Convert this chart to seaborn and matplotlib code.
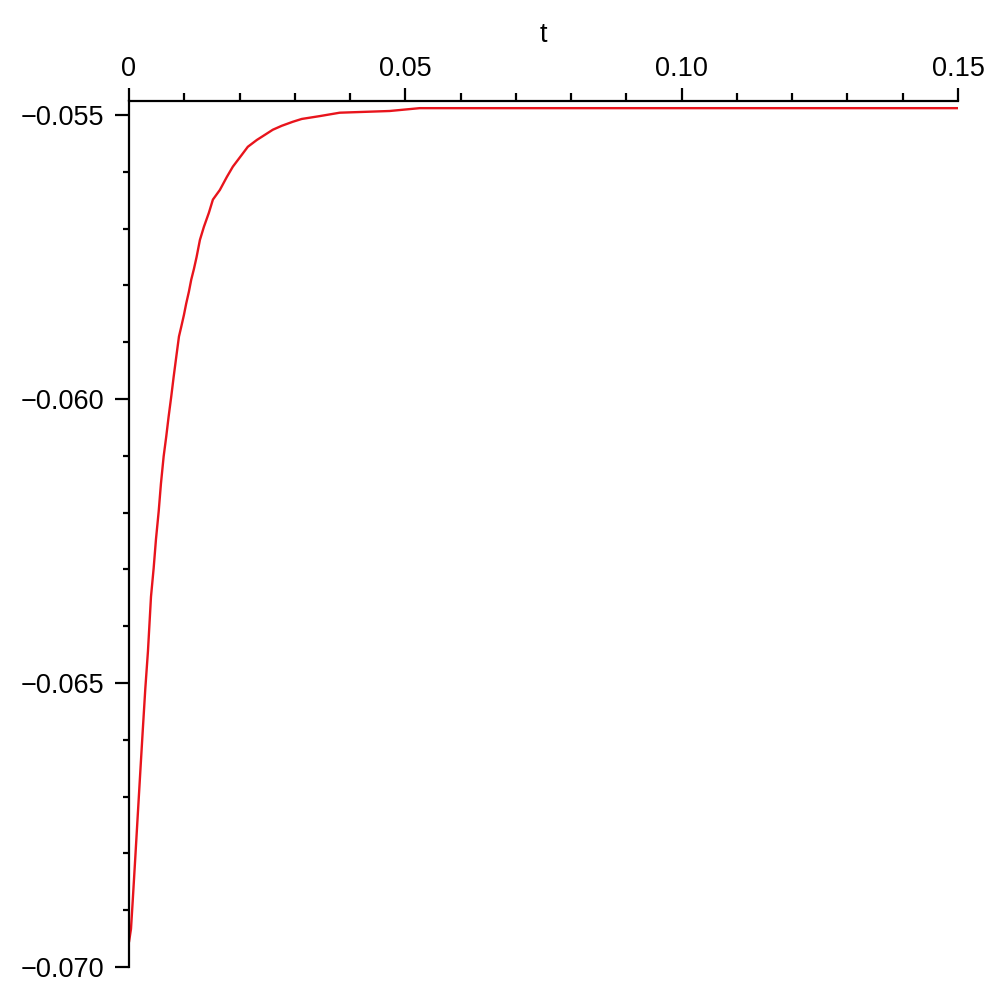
import numpy as np
import pandas as pd
import matplotlib
matplotlib.use("Agg")
import matplotlib.pyplot as plt
import seaborn as sns
from matplotlib.ticker import FixedLocator, MultipleLocator

# values
t_values = [0.0, 0.00036, 0.00067, 0.00114, 0.00157, 0.00204, 0.00248, 0.00295,
            0.00343, 0.00398, 0.00446, 0.00488, 0.00537, 0.00578, 0.00627, 0.00674,
            0.00717, 0.00764, 0.00808, 0.00855, 0.00904, 0.00945, 0.00994, 0.01035,
            0.01084, 0.01126, 0.01175, 0.01223, 0.01283, 0.01355, 0.01446, 0.01518,
            0.01644, 0.01771, 0.01879, 0.02042, 0.02150, 0.02313, 0.02458, 0.02602,
            0.02765, 0.02963, 0.03126, 0.03451, 0.03813, 0.04716, 0.05258, 0.15]
y_values = [-0.06956, -0.06933, -0.06884, -0.06807, -0.06735, -0.06657, -0.06585, -0.06510,
            -0.06444, -0.06348, -0.06298, -0.06247, -0.06198, -0.06149, -0.06101, -0.06066,
            -0.06031, -0.05996, -0.05961, -0.05926, -0.05890, -0.05873, -0.05852, -0.05832,
            -0.05811, -0.05790, -0.05771, -0.05750, -0.05720, -0.05697, -0.05672, -0.05649,
            -0.05632, -0.05609, -0.05591, -0.05570, -0.05556, -0.05544, -0.05535, -0.05526,
            -0.05519, -0.05512, -0.05507, -0.05502, -0.05496, -0.05493, -0.05488, -0.05488]

x_ticks = [0.0, 0.05, 0.10, 0.15]
x_tick_labels = ["0", "0.05", "0.10", "0.15"]
y_ticks = [-0.055, -0.060, -0.065, -0.070]
y_tick_labels = ["\u22120.055", "\u22120.060", "\u22120.065", "\u22120.070"]

df = pd.DataFrame({"t": t_values, "y": y_values})

sns.set_style("ticks")
plt.rcParams["font.family"] = ["Liberation Sans", "DejaVu Sans"]

fig = plt.figure(figsize=(10, 10), dpi=100)
ax = fig.add_axes([0.129, 0.033, 0.829, 0.866])

sns.lineplot(data=df, x="t", y="y", color="#e8141c", linewidth=1.7,
             estimator=None, sort=False, ax=ax)

ax.set_xlim(0, 0.15)
ax.set_ylim(-0.070, -0.054754)

# Maple-like axes: x axis drawn along the top, y axis on the left
ax.xaxis.tick_top()
ax.xaxis.set_label_position("top")
for side in ["right", "bottom"]:
    ax.spines[side].set_visible(False)
for side in ["top", "left"]:
    ax.spines[side].set_linewidth(1.6)
    ax.spines[side].set_color("black")

ax.xaxis.set_major_locator(FixedLocator(x_ticks))
ax.set_xticklabels(x_tick_labels)
ax.xaxis.set_minor_locator(MultipleLocator(0.01))
ax.yaxis.set_major_locator(FixedLocator(y_ticks))
ax.set_yticklabels(y_tick_labels)
ax.yaxis.set_minor_locator(MultipleLocator(0.001))

ax.tick_params(axis="x", which="major", direction="out", length=9.5, width=1.6,
               labelsize=19.5, pad=4, color="black", labelcolor="black")
ax.tick_params(axis="x", which="minor", direction="out", length=5.5, width=1.6,
               color="black")
ax.tick_params(axis="y", which="major", direction="out", length=10, width=1.6,
               labelsize=19.5, pad=8, color="black", labelcolor="black")
ax.tick_params(axis="y", which="minor", direction="out", length=4.5, width=1.6,
               color="black")

ax.set_xlabel("t", fontsize=19.5, labelpad=10, color="black")
ax.set_ylabel("")

fig.savefig("out.png", dpi=100, facecolor="white")
